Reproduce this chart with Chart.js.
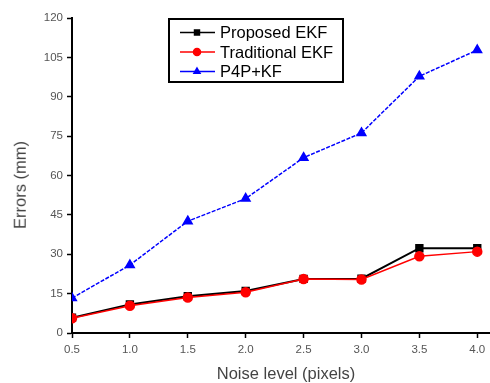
<!DOCTYPE html>
<html><head><meta charset="utf-8">
<script src="https://cdn.jsdelivr.net/npm/chart.js@4"></script>
<style>
html,body{margin:0;padding:0;background:#fff}
#wrap{position:relative;width:490px;height:383px}
.ttl{position:absolute;font-family:'Liberation Sans',Arial,sans-serif;font-size:16.5px;color:#444;white-space:nowrap;line-height:1}
#xt{left:286px;top:373px;transform:translate(-50%,-50%)}
#yt{left:20px;top:185px;transform:translate(-50%,-50%) rotate(-90deg)}
</style>
</head><body><div id="wrap"><canvas id="c" width="490" height="383"></canvas>
<div class="ttl" id="xt">Noise level (pixels)</div>
<div class="ttl" id="yt">Errors (mm)</div>
</div>
<script>
const noiseLevels = [0.5, 1.0, 1.5, 2.0, 2.5, 3.0, 3.5, 4.0];
const proposedEKF = [5.8, 10.9, 14.0, 16.0, 20.6, 20.7, 32.3, 32.3];
const traditionalEKF = [5.6, 10.4, 13.5, 15.5, 20.6, 20.4, 29.2, 31.0];
const p4pKF = [13.3, 25.9, 42.6, 51.2, 66.8, 76.2, 97.8, 107.8];
const xTicks = [0.5, 1.0, 1.5, 2.0, 2.5, 3.0, 3.5, 4.0];
const yTicks = [0, 15, 30, 45, 60, 75, 90, 105, 120];

const pts = arr => noiseLevels.map((x, i) => ({x, y: arr[i]}));
const FONT = 'Liberation Sans, Arial, sans-serif';

const legendPlugin = {
  id: 'boxLegend',
  afterDraw(chart) {
    const ctx = chart.ctx;
    const x0 = 169, y0 = 19, w = 174, h = 63;
    ctx.save();
    ctx.fillStyle = '#fff';
    ctx.fillRect(x0, y0, w, h);
    ctx.strokeStyle = '#000';
    ctx.lineWidth = 2;
    ctx.strokeRect(x0, y0, w, h);
    [0, 1, 2].forEach((di, i) => {
      const ds = chart.data.datasets[di];
      const y = 32.5 + i * 19.5;
      ctx.strokeStyle = ds.borderColor;
      ctx.lineWidth = 1.5;
      ctx.setLineDash([]);
      ctx.beginPath(); ctx.moveTo(180, y); ctx.lineTo(215, y); ctx.stroke();
      ctx.fillStyle = ds.borderColor;
      Chart.helpers.drawPoint(ctx, {pointStyle: ds.pointStyle, radius: 3.5, borderWidth: 1}, 197, y);
      ctx.fill();
      ctx.fillStyle = '#000';
      ctx.font = '16.5px ' + FONT;
      ctx.textBaseline = 'middle';
      ctx.fillText(ds.label, 220, y + 1);
    });
    ctx.restore();
  }
};

new Chart(document.getElementById('c'), {
  type: 'line',
  data: {
    datasets: [
      {label: 'Proposed EKF', data: pts(proposedEKF), borderColor: '#000', backgroundColor: '#000',
       pointStyle: 'rect', pointRadius: 4.5, borderWidth: 2, order: 2},
      {label: 'Traditional EKF', data: pts(traditionalEKF), borderColor: '#ff0000', backgroundColor: '#ff0000',
       pointStyle: 'circle', pointRadius: 4.5, borderWidth: 1.5, order: 1},
      {label: 'P4P+KF', data: pts(p4pKF), borderColor: '#0000ff', backgroundColor: '#0000ff',
       pointStyle: 'triangle', pointRadius: 5, borderWidth: 1.5, borderDash: [4, 1.5], order: 0}
    ]
  },
  options: {
    responsive: false,
    animation: false,
    layout: {autoPadding: false, padding: {top: 18, right: 0, left: 0, bottom: 0}},
    plugins: {legend: {display: false}, tooltip: {enabled: false}},
    scales: {
      x: {
        type: 'linear', min: 0.5, max: 4.11,
        afterBuildTicks: s => { s.ticks = xTicks.map(v => ({value: v})); },
        afterFit: s => { s.height = 50; s.paddingRight = 0; s.paddingLeft = 0; },
        border: {color: '#000', width: 2},
        grid: {drawOnChartArea: false, tickLength: 5, color: '#000', tickWidth: 1.5},
        ticks: {color: '#555', font: {family: FONT, size: 11.5}, padding: 5,
                callback: v => Number(v).toFixed(1)},
        title: {display: false}
      },
      y: {
        type: 'linear', min: 0, max: 120,
        afterBuildTicks: s => { s.ticks = yTicks.map(v => ({value: v})); },
        afterFit: s => { s.width = 72; s.paddingTop = 0; s.paddingBottom = 0; },
        border: {color: '#000', width: 2},
        grid: {drawOnChartArea: false, tickLength: 5, color: '#000', tickWidth: 1.5},
        ticks: {color: '#555', font: {family: FONT, size: 11.5}, padding: 4},
        title: {display: false}
      }
    }
  },
  plugins: [legendPlugin]
});
</script></body></html>
